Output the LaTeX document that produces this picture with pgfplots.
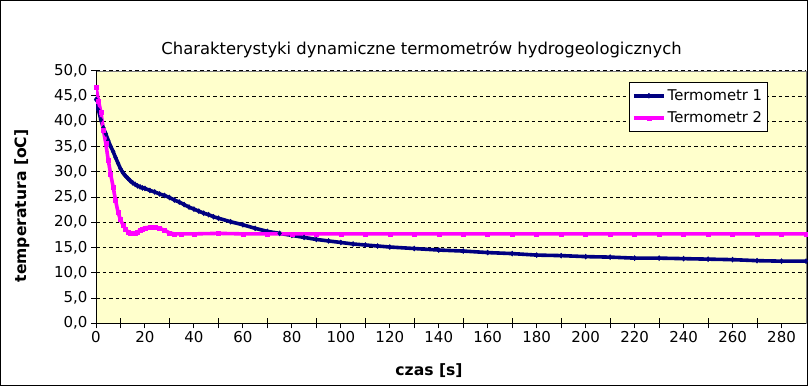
\documentclass[border=0pt]{standalone}
\usepackage{fontspec}
\setmainfont{DejaVu Sans}
\usepackage{pgfplots}
\pgfplotsset{compat=1.18}
\definecolor{navyT}{HTML}{000080}
\definecolor{magT}{HTML}{FF00FF}
\definecolor{plotbg}{HTML}{FFFFCC}
\begin{document}
\begin{tikzpicture}[x=1bp,y=1bp]
\useasboundingbox (0,0) rectangle (808,386);
\draw[black, line width=1bp] (0.5,0.5) rectangle (807.5,385.5);
\begin{axis}[
  at={(96bp,62.7bp)}, anchor=south west,
  scale only axis, width=710bp, height=252.6bp,
  xmin=0, xmax=290, ymin=0, ymax=50,
  axis background/.style={fill=plotbg, draw=gray},
  axis x line*=bottom, axis y line*=left,
  axis line style={black, line width=1bp, -},
  xtick={0,20,...,280}, ytick={0,5,...,50},
  extra x ticks={10,30,...,270},
  extra x tick labels={},
  extra x tick style={grid=none, tick align=center, major tick length=10bp},
  tick align=outside, major tick length=5bp,
  tick style={black, line width=1bp},
  ymajorgrids, grid style={black, line width=0.8bp, dash pattern=on 3.5bp off 3bp},
  /pgf/number format/assume math mode=true,
  ticklabel style={font=\fontsize{15bp}{18bp}\selectfont},
  y tick label style={/pgf/number format/.cd, fixed, fixed zerofill, precision=1, use comma, /tikz/.cd},
  x tick label style={/pgf/number format/.cd, fixed, precision=0, 1000 sep={}, /tikz/.cd},
  legend style={at={(0.946,0.955)}, anchor=north east, draw=black, line width=1bp, fill=white,
    font=\fontsize{14.8bp}{18bp}\selectfont, inner xsep=3bp, inner ysep=5bp, row sep=6bp},
  legend cell align=left,
  legend image code/.code={\draw[mark repeat=2,mark phase=2,#1] plot coordinates {(0bp,0bp)(15bp,0bp)(30bp,0bp)};},
]
\addplot[navyT, line width=3.6bp, mark=diamond*, mark size=2.5bp, mark options={solid, line width=0.5bp}] coordinates {
(0,44.3)(1,42.2)(2,40.3)(3,38.7)(4,37.5)(5,36.2)(6,35.0)(7,34.0)(8,32.8)(9,31.7)
(10,30.6)(11,29.8)(12,29.2)(13,28.7)(14,28.2)(15,27.8)(16,27.5)(17,27.2)(18,27.0)(19,26.8)
(20,26.7)(22,26.3)(24,26.0)(26,25.6)(28,25.3)(30,24.9)(32,24.4)(34,24.0)(36,23.5)(38,23.0)
(40,22.6)(42,22.2)(44,21.8)(46,21.5)(48,21.1)(50,20.8)(55,20.1)(60,19.5)(65,18.8)(70,18.2)
(75,17.8)(80,17.4)(85,17.0)(90,16.6)(95,16.3)(100,16.0)(105,15.7)(110,15.5)(115,15.3)(120,15.1)
(130,14.8)(140,14.5)(150,14.3)(160,14.0)(170,13.8)(180,13.5)(190,13.4)(200,13.2)(210,13.1)
(220,12.9)(230,12.9)(240,12.8)(250,12.7)(260,12.6)(270,12.4)(280,12.3)(290,12.3)
};
\addlegendentry{Termometr 1}
\addplot[magT, line width=3.6bp, mark=square*, mark size=2bp, mark options={solid, line width=0.5bp}] coordinates {
(0,46.7)(1,44.0)(2,41.8)(3,38.3)(4,35.6)(5,32.3)(6,29.5)(7,27.0)(8,24.3)(9,22.0)
(10,20.5)(11,19.5)(12,18.7)(13,18.1)(14,17.9)(15,17.8)(16,17.9)(17,18.1)(18,18.4)(19,18.7)
(20,18.9)(22,19.0)(24,18.95)(26,18.8)(28,18.4)(30,17.9)(32,17.7)(35,17.7)(40,17.7)(50,17.8)
(60,17.7)(70,17.7)(80,17.7)(90,17.7)(100,17.7)(110,17.7)(120,17.7)(130,17.7)(140,17.7)(150,17.7)
(160,17.7)(170,17.7)(180,17.7)(190,17.7)(200,17.7)(210,17.7)(220,17.7)(230,17.7)(240,17.7)
(250,17.7)(260,17.7)(270,17.7)(280,17.7)(290,17.7)
};
\addlegendentry{Termometr 2}
\end{axis}
\node[font=\fontsize{16.4bp}{19bp}\selectfont] at (421.5,336) {Charakterystyki dynamiczne termometrów hydrogeologicznych};
\node[rotate=90, font=\bfseries\fontsize{15.6bp}{18bp}\selectfont] at (21.7,180) {temperatura [oC]};
\node[font=\bfseries\fontsize{15.6bp}{18bp}\selectfont] at (429,15) {czas [s]};
\end{tikzpicture}
\end{document}
